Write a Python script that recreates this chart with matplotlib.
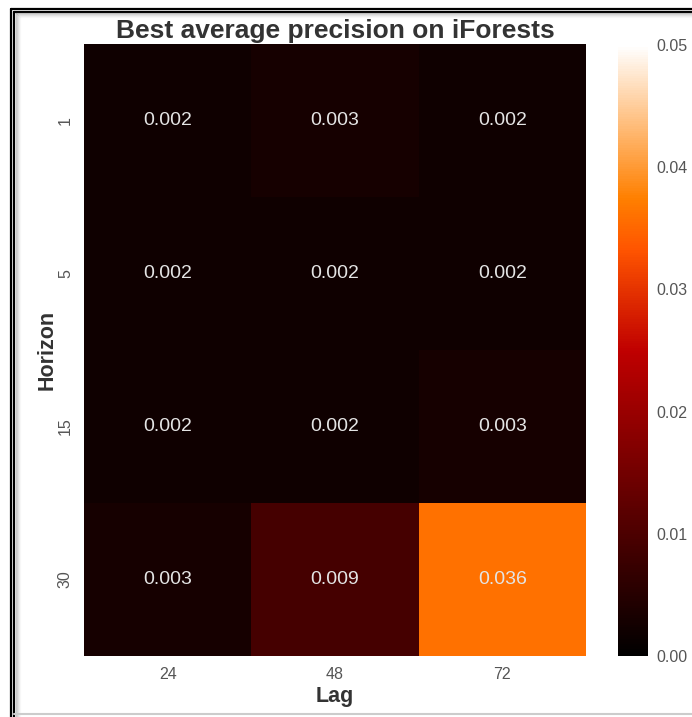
import numpy as np
import pandas as pd
import matplotlib
matplotlib.use("Agg")
import matplotlib.pyplot as plt
import seaborn as sns
from matplotlib.lines import Line2D

# values
lags = [24, 48, 72]
horizons = [1, 5, 15, 30]
ap_h1 = [0.002, 0.003, 0.002]
ap_h5 = [0.002, 0.002, 0.002]
ap_h15 = [0.002, 0.002, 0.003]
ap_h30 = [0.003, 0.009, 0.036]

df = pd.DataFrame([ap_h1, ap_h5, ap_h15, ap_h30], index=horizons, columns=lags)

sns.set_style("white")
plt.rcParams['font.family'] = ['Liberation Sans', 'DejaVu Sans']

W, H = 692, 717
fig = plt.figure(figsize=(W / 100, H / 100), dpi=100)
ax = fig.add_axes([84 / W, 1 - 656 / H, 502 / W, 612 / H])
cax = fig.add_axes([618 / W, 1 - 656 / H, 30 / W, 611 / H])

sns.heatmap(df, ax=ax, cbar_ax=cax, cmap="gist_heat", vmin=0, vmax=0.05,
            annot=True, fmt=".3f",
            annot_kws={"size": 14, "color": "#e4e4e4"})

ax.set_title("Best average precision on iForests", fontsize=19,
             fontweight="bold", color="#333333", pad=4.5)
ax.set_xlabel("Lag", fontsize=15.5, fontweight="bold", color="#333333", labelpad=3)
ax.set_ylabel("Horizon", fontsize=15.5, fontweight="bold", color="#333333", labelpad=0)
ax.tick_params(axis="both", length=0, labelsize=11.5, labelcolor="#555555", pad=8)
ax.tick_params(axis="y", rotation=90)

cax.tick_params(length=0, labelsize=11.5, labelcolor="#555555", pad=6)
cax.set_yticks([0, 0.01, 0.02, 0.03, 0.04, 0.05])
cax.set_yticklabels(["0.00", "0.01", "0.02", "0.03", "0.04", "0.05"])
for s in cax.spines.values():
    s.set_visible(False)

# screenshot frame
def px(x, y):
    return x / W, 1 - y / H

for off in [0, 3]:
    x0, y0 = px(10.5 + off, 8.5 + off)
    x1, y1 = px(W, H)
    fig.add_artist(Line2D([x0, x0], [y0, y1], color="black", lw=1.6))
    fig.add_artist(Line2D([x0, x1], [y0, y0], color="black", lw=1.6))
for i, a in enumerate([0.35, 0.25, 0.16, 0.09, 0.04]):
    x0, y0 = px(15.5 + i, 12.5 + i)
    fig.add_artist(Line2D([x0, x0], [y0, 0], color="gray", alpha=a, lw=1))
    fig.add_artist(Line2D([x0, 1], [y0, y0], color="gray", alpha=a, lw=1))
fig.add_artist(Line2D([px(14, 0)[0], 1], [px(0, 714)[1]] * 2, color="#cccccc", lw=1.5))

plt.savefig("out.png", dpi=100)
